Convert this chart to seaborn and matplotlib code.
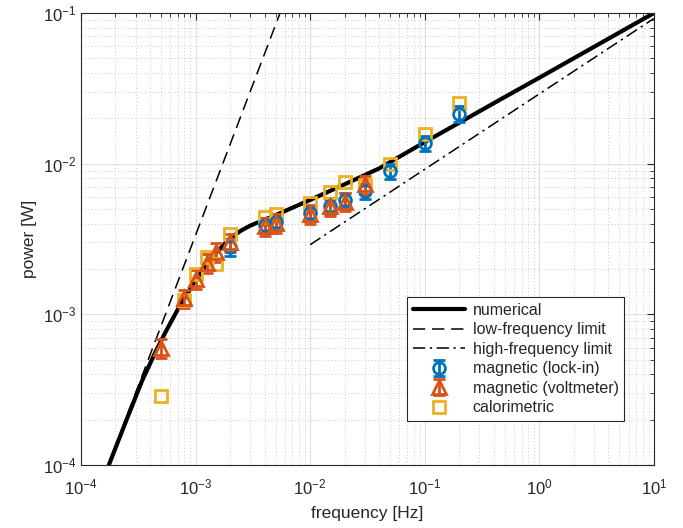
import seaborn as sns
import matplotlib
matplotlib.use("Agg")
import matplotlib.pyplot as plt
from matplotlib.ticker import LogLocator, LogFormatterMathtext, NullFormatter

# Curva numérica
f_num = [1.75e-4, 2.5e-4, 3.4e-4, 4.5e-4, 5.5e-4, 7e-4, 8e-4, 1.0e-3, 1.25e-3, 1.5e-3,
         2.0e-3, 2.5e-3, 3.0e-3, 4.0e-3, 5.0e-3, 7.0e-3, 1.0e-2, 2.0e-2, 4.0e-2,
         0.1, 0.2, 0.45, 1.0, 10.0]
p_num = [1.0e-4, 2.0e-4, 3.6e-4, 5.7e-4, 7.7e-4, 1.08e-3, 1.28e-3, 1.68e-3, 2.15e-3, 2.55e-3,
         3.2e-3, 3.6e-3, 3.88e-3, 4.25e-3, 4.55e-3, 5.1e-3, 5.75e-3, 7.3e-3, 9.3e-3,
         1.39e-2, 1.87e-2, 2.65e-2, 3.72e-2, 0.1]

# Limites (extremos das retas)
f_low = [1.7e-4, 5.46e-3]
p_low = [9.7e-5, 0.1]
f_high = [0.01, 10.0]
p_high = [2.9e-3, 0.092]

# Medidas magnéticas (lock-in)
f_lock = [0.002, 0.004, 0.005, 0.01, 0.015, 0.02, 0.03, 0.05, 0.1, 0.2]
p_lock = [2.8e-3, 3.9e-3, 4.1e-3, 4.7e-3, 5.2e-3, 5.7e-3, 6.6e-3, 8.9e-3, 1.37e-2, 2.15e-2]
e_lock = [3.5e-4, 4.5e-4, 4.8e-4, 5.5e-4, 6e-4, 6.5e-4, 7.5e-4, 1.0e-3, 1.6e-3, 2.5e-3]

# Medidas magnéticas (voltímetro)
f_volt = [0.0005, 0.0008, 0.001, 0.00125, 0.0015, 0.002, 0.004, 0.005, 0.01, 0.015, 0.02, 0.03]
p_volt = [6.0e-4, 1.28e-3, 1.72e-3, 2.2e-3, 2.6e-3, 3.0e-3, 3.85e-3, 4.05e-3, 4.65e-3,
          5.2e-3, 5.6e-3, 7.3e-3]
e_volt = [8.5e-5, 1.8e-4, 2.4e-4, 3.1e-4, 3.6e-4, 4.2e-4, 5.4e-4, 5.7e-4, 6.5e-4,
          7.3e-4, 7.8e-4, 1.0e-3]

# Calorimétrico
f_cal = [0.0005, 0.0008, 0.001, 0.00125, 0.0015, 0.002, 0.004, 0.005, 0.01, 0.015,
         0.02, 0.03, 0.05, 0.1, 0.2]
p_cal = [2.85e-4, 1.25e-3, 1.85e-3, 2.4e-3, 2.15e-3, 3.4e-3, 4.4e-3, 4.6e-3, 5.5e-3,
         6.5e-3, 7.6e-3, 7.2e-3, 1.0e-2, 1.57e-2, 2.52e-2]

sns.set_style("white")
plt.rcParams['font.family'] = ['Liberation Sans', 'DejaVu Sans']
plt.rcParams['mathtext.fontset'] = 'custom'
plt.rcParams['mathtext.rm'] = 'Liberation Sans'
plt.rcParams['mathtext.it'] = 'Liberation Sans:italic'

azul = '#0072BD'
laranja = '#D95319'
amarelo = '#EDB120'

fig = plt.figure(figsize=(6.83, 5.28), dpi=100)
ax = fig.add_axes([0.1186, 0.1193, 0.8389, 0.8561])
ax.set_xscale('log')
ax.set_yscale('log')

sns.lineplot(x=f_num, y=p_num, ax=ax, color='black', linewidth=3, sort=False,
             estimator=None)
sns.lineplot(x=f_low, y=p_low, ax=ax, color='black', linewidth=1.1, sort=False,
             estimator=None)
sns.lineplot(x=f_high, y=p_high, ax=ax, color='black', linewidth=1.1, sort=False,
             estimator=None)
l_num, l_low, l_high = ax.lines[0], ax.lines[1], ax.lines[2]
l_low.set_dashes((8, 4.5))
l_high.set_dashes((8, 3, 1.5, 3))

h_lock = ax.errorbar(f_lock, p_lock, yerr=e_lock, fmt='o', color=azul, mfc='none', mec=azul,
                     ms=8.5, mew=2, elinewidth=2, capsize=4.5, capthick=2.2)
h_volt = ax.errorbar(f_volt, p_volt, yerr=e_volt, fmt='^', color=laranja, mfc='none',
                     mec=laranja, ms=10, mew=2, elinewidth=2, capsize=4.5, capthick=2.2)
h_cal, = ax.plot(f_cal, p_cal, 's', color=amarelo, mfc='none', mec=amarelo, ms=8, mew=2)

ax.set_xlim(1e-4, 10)
ax.set_ylim(1e-4, 1e-1)

ax.xaxis.set_major_locator(LogLocator(base=10, numticks=10))
ax.yaxis.set_major_locator(LogLocator(base=10, numticks=10))
ax.xaxis.set_minor_locator(LogLocator(base=10, subs=range(2, 10), numticks=100))
ax.yaxis.set_minor_locator(LogLocator(base=10, subs=range(2, 10), numticks=100))
ax.xaxis.set_major_formatter(LogFormatterMathtext())
ax.yaxis.set_major_formatter(LogFormatterMathtext())
ax.xaxis.set_minor_formatter(NullFormatter())
ax.yaxis.set_minor_formatter(NullFormatter())

ax.grid(True, which='major', color='#e0e0e0', linewidth=0.8, linestyle='-')
ax.grid(True, which='minor', color='#b8b8b8', linewidth=0.6, linestyle=(0, (1, 3)))
ax.set_axisbelow(True)

ax.tick_params(which='both', direction='in', top=True, right=True, colors='#262626',
               labelsize=12, labelcolor='#262626')
ax.tick_params(which='major', length=5, width=0.8)
ax.tick_params(which='minor', length=3, width=0.6)
ax.tick_params(axis='x', pad=9)
for s in ax.spines.values():
    s.set_color('#262626')
    s.set_linewidth(0.8)

ax.set_xlabel('frequency [Hz]', fontsize=12.5, color='#262626', labelpad=6)
ax.set_ylabel('power [W]', fontsize=12.5, color='#262626', labelpad=4)

leg = ax.legend([l_num, l_low, l_high, h_lock, h_volt, h_cal],
                ['numerical', 'low-frequency limit', 'high-frequency limit',
                 'magnetic (lock-in)', 'magnetic (voltmeter)', 'calorimetric'],
                loc='upper right', bbox_to_anchor=(0.948, 0.371), fontsize=11.5,
                frameon=True, fancybox=False, framealpha=1, edgecolor='#262626',
                handlelength=3.3, handletextpad=0.45, labelspacing=0.28,
                borderpad=0.35, borderaxespad=0)
leg.get_frame().set_linewidth(0.8)

fig.savefig('out.png', dpi=100)
